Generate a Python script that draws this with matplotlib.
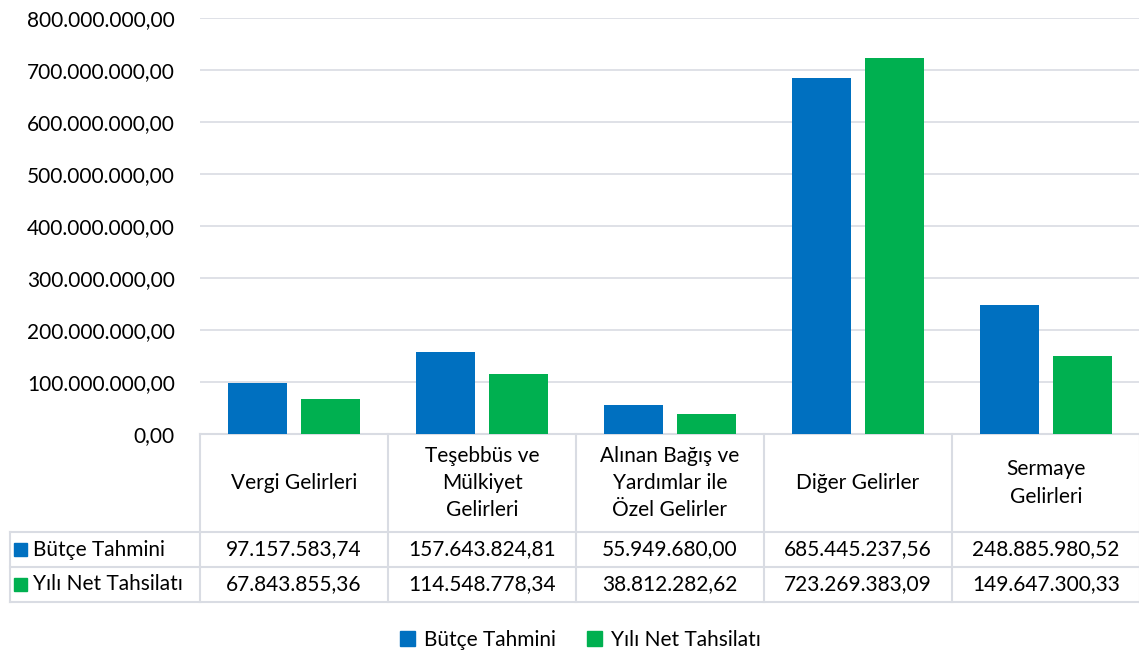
import matplotlib
matplotlib.use("Agg")
import matplotlib.pyplot as plt
import matplotlib.transforms as mtransforms
from matplotlib.patches import Patch
import numpy as np

plt.rcParams['font.family'] = ['Lato', 'DejaVu Sans']

categories = ["Vergi Gelirleri", "Teşebbüs ve\nMülkiyet\nGelirleri",
              "Alınan Bağış ve\nYardımlar ile\nÖzel Gelirler", "Diğer Gelirler",
              "Sermaye\nGelirleri"]
series_names = ["Bütçe Tahmini", "Yılı Net Tahsilatı"]
butce = [97157583.74, 157643824.81, 55949680.00, 685445237.56, 248885980.52]
tahsilat = [67843855.36, 114548778.34, 38812282.62, 723269383.09, 149647300.33]
yticks = [0, 100e6, 200e6, 300e6, 400e6, 500e6, 600e6, 700e6, 800e6]

colors = ["#0070C0", "#00B050"]
grid_c = "#D9DCE3"
fs = 15


def tr_fmt(v):
    s = f"{v:,.2f}"
    return s.replace(",", "X").replace(".", ",").replace("X", ".")


W, H = 1139, 655
fig = plt.figure(figsize=(W / 100, H / 100), dpi=100)
ax = fig.add_axes([200 / W, (H - 434) / H, 940 / W, 416 / H])

x = np.arange(len(categories))
bw = 0.315
off = 0.195
ax.bar(x - off, butce, bw, color=colors[0], zorder=3)
ax.bar(x + off, tahsilat, bw, color=colors[1], zorder=3)

ax.set_xlim(-0.5, len(categories) - 0.5)
ax.set_ylim(0, 800e6)
ax.set_yticks(yticks)
ax.set_yticklabels([tr_fmt(v) for v in yticks], fontsize=fs)
ax.tick_params(axis='y', length=0, pad=18)
ax.set_xticks([])
for s in ax.spines.values():
    s.set_visible(False)
ax.yaxis.grid(True, color=grid_c, lw=1.2, zorder=0)

# data table below the plot
trans = mtransforms.blended_transform_factory(ax.transData, ax.transAxes)
px = 1 / 416
rows_y = [0, -98 * px, -133 * px, -168 * px]
left = -0.5 - 190 / 188
right = len(categories) - 0.5
lkw = dict(color=grid_c, lw=1.5, transform=trans, clip_on=False)

ax.plot([-0.5, right], [rows_y[0]] * 2, **lkw)
for yy in rows_y[1:]:
    ax.plot([left, right], [yy] * 2, **lkw)
for i in range(len(categories) + 1):
    ax.plot([i - 0.5] * 2, [rows_y[0], rows_y[3]], **lkw)
ax.plot([left] * 2, [rows_y[1], rows_y[3]], **lkw)

for i, c in enumerate(categories):
    ax.text(i, (rows_y[0] + rows_y[1]) / 2, c, ha='center', va='center',
            fontsize=fs, linespacing=1.45, transform=trans, clip_on=False)
for r, vals in enumerate([butce, tahsilat]):
    yc = (rows_y[r + 1] + rows_y[r + 2]) / 2
    for i, v in enumerate(vals):
        ax.text(i, yc, tr_fmt(v), ha='center', va='center', fontsize=fs,
                transform=trans, clip_on=False)
    ax.add_patch(plt.Rectangle((left + 0.022, yc - 6.5 * px), 13 / 188, 13 * px,
                               color=colors[r], transform=trans, clip_on=False))
    ax.text(left + 0.122, yc, series_names[r], ha='left', va='center', fontsize=fs,
            transform=trans, clip_on=False)

handles = [Patch(color=colors[0], label=series_names[0]),
           Patch(color=colors[1], label=series_names[1])]
fig.legend(handles=handles, loc='center', bbox_to_anchor=(580 / W, 1 - 640 / H),
           ncol=2, frameon=False, fontsize=fs, handlelength=0.75, handleheight=0.75,
           handletextpad=0.4, columnspacing=1.5)

fig.savefig("out.png", dpi=100)
